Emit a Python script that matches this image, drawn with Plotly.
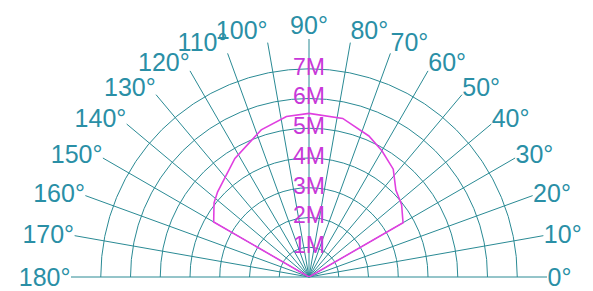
import plotly.graph_objects as go

# Data
pattern_theta = [30, 30, 38, 45, 52, 60, 67, 78, 90, 98, 108, 122, 137, 142, 150, 150]
pattern_r = [0, 3.65, 3.95, 4.13, 4.6, 4.9, 5.15, 5.45, 5.5, 5.45, 5.2, 4.7, 4.2, 4.05, 3.7, 0]
radial_ticks = [1, 2, 3, 4, 5, 6, 7]
radial_labels = ["1M", "2M", "3M", "4M", "5M", "6M", "7M"]
angle_ticks = list(range(0, 190, 10))
angle_labels = [f"{a}°" for a in angle_ticks]

grid_color = "#2a8a94"
label_color = "#2a8fa6"
magenta = "#e040e0"

fig = go.Figure()
fig.add_trace(go.Scatterpolar(
    r=pattern_r, theta=pattern_theta, mode="lines",
    line=dict(color=magenta, width=1.6), hoverinfo="skip", showlegend=False,
))
fig.add_trace(go.Scatterpolar(
    r=radial_ticks, theta=[90] * len(radial_ticks), mode="text",
    text=radial_labels, textposition="middle center",
    textfont=dict(family="Liberation Sans, Arial, sans-serif", size=23, color="#c838d8"),
    hoverinfo="skip", showlegend=False,
))

fig.update_layout(
    width=593, height=291,
    margin=dict(l=0, r=0, t=0, b=0),
    paper_bgcolor="white",
    polar=dict(
        domain=dict(x=[63 / 593, 539 / 593], y=[22 / 291, 260 / 291]),
        sector=[0, 180],
        bgcolor="white",
        radialaxis=dict(
            range=[0, 8], tickvals=radial_ticks, showticklabels=False,
            ticks="", showline=False, gridcolor=grid_color, gridwidth=1.3,
            angle=90,
        ),
        angularaxis=dict(
            tickvals=angle_ticks, ticktext=angle_labels, direction="counterclockwise",
            rotation=0, showline=False, ticks="", gridcolor=grid_color, gridwidth=1.3,
            tickfont=dict(family="Liberation Sans, Arial, sans-serif", size=25, color=label_color),
        ),
    ),
)

fig.write_html("out.html")
